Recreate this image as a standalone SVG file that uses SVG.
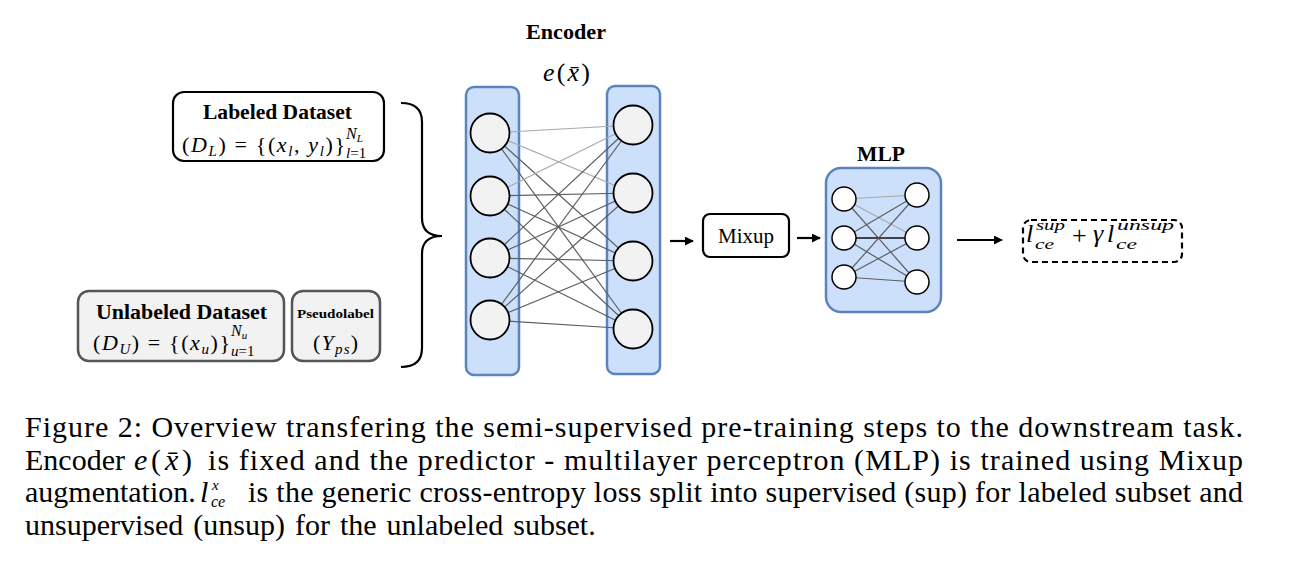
<svg xmlns="http://www.w3.org/2000/svg" width="1290" height="572" viewBox="0 0 1290 572">
<style>
.t{font-family:"Liberation Serif","Times New Roman",serif;fill:#000}
.b{font-weight:bold}
.i{font-style:italic}
.col{fill:#cce0fc;stroke:#5b84bf;stroke-width:2.5}
.enc{fill:#f2f2f2;stroke:#000;stroke-width:1.8}
.mlpn{fill:#fff;stroke:#000;stroke-width:1.5}
.lt{stroke:#a8a8a8;stroke-width:1.2}
.dk{stroke:#5e5e5e;stroke-width:1.2}
.arr{stroke:#000;stroke-width:2.2;fill:none}
</style>
<defs>
<marker id="ah" viewBox="0 0 10 10" refX="9" refY="5" markerWidth="9" markerHeight="9" markerUnits="userSpaceOnUse" orient="auto">
<path d="M0,0 L10,5 L0,10 z" fill="#000"/>
</marker>
</defs>
<rect width="1290" height="572" fill="#fff"/>

<g id="labeled">
<rect x="173" y="92" width="211" height="69" rx="11" fill="#fff" stroke="#000" stroke-width="2.2"/>
<text class="t b" x="203" y="119" font-size="21.5" textLength="149" lengthAdjust="spacingAndGlyphs">Labeled Dataset</text>
<text class="t" x="182" y="152" font-size="22" textLength="163" lengthAdjust="spacing">(<tspan class="i">D</tspan><tspan class="i" font-size="15" dy="4">L</tspan><tspan dy="-4">) = {(</tspan><tspan class="i">x</tspan><tspan class="i" font-size="15" dy="4">l</tspan><tspan dy="-4">, </tspan><tspan class="i">y</tspan><tspan class="i" font-size="15" dy="4">l</tspan><tspan dy="-4">)}</tspan></text>
<text class="t i" x="346" y="139" font-size="16">N<tspan font-size="11" dy="3">L</tspan></text>
<text class="t" x="346" y="158" font-size="15"><tspan class="i">l</tspan>=1</text>
</g>

<g id="unlabeled">
<rect x="78" y="291" width="206" height="70" rx="11" fill="#f2f2f2" stroke="#555" stroke-width="2.5"/>
<text class="t b" x="96" y="319" font-size="21.5" textLength="171" lengthAdjust="spacingAndGlyphs">Unlabeled Dataset</text>
<text class="t" x="93" y="350" font-size="22" textLength="137" lengthAdjust="spacing">(<tspan class="i">D</tspan><tspan class="i" font-size="15" dy="4">U</tspan><tspan dy="-4">) = {(</tspan><tspan class="i">x</tspan><tspan class="i" font-size="15" dy="4">u</tspan><tspan dy="-4">)}</tspan></text>
<text class="t i" x="231" y="336" font-size="16">N<tspan font-size="11" dy="3">u</tspan></text>
<text class="t" x="231" y="356" font-size="15"><tspan class="i">u</tspan>=1</text>
</g>

<g id="pseudolabel">
<rect x="292" y="291" width="88" height="70" rx="11" fill="#f2f2f2" stroke="#555" stroke-width="2.5"/>
<text class="t b" x="297" y="318" font-size="13" textLength="77" lengthAdjust="spacingAndGlyphs">Pseudolabel</text>
<text class="t" x="313" y="350" font-size="22" textLength="45" lengthAdjust="spacing">(<tspan class="i">Y</tspan><tspan class="i" font-size="15" dy="4">ps</tspan><tspan dy="-4">)</tspan></text>
</g>

<g id="brace">
<path d="M401,103 Q422,103 422,122 L422,218 Q422,236 442,236 Q422,236 422,254 L422,348 Q422,367 401,367" fill="none" stroke="#000" stroke-width="2.2"/>
</g>

<g id="encoder">
<text class="t b" x="526" y="39" font-size="21" textLength="80" lengthAdjust="spacingAndGlyphs">Encoder</text>
<text class="t" x="543" y="81" font-size="26" textLength="47" lengthAdjust="spacing"><tspan class="i">e</tspan>(<tspan class="i">x̄</tspan>)</text>
<rect class="col" x="466" y="87" width="53" height="288" rx="8"/>
<rect class="col" x="607" y="86" width="53" height="288" rx="8"/>
<g id="encoder-edges">
<line class="lt" x1="490" y1="133" x2="633" y2="125"/>
<line class="lt" x1="490" y1="133" x2="633" y2="193"/>
<line class="dk" x1="490" y1="133" x2="633" y2="261"/>
<line class="dk" x1="490" y1="133" x2="633" y2="329"/>
<line class="lt" x1="490" y1="196" x2="633" y2="125"/>
<line class="dk" x1="490" y1="196" x2="633" y2="193"/>
<line class="dk" x1="490" y1="196" x2="633" y2="261"/>
<line class="dk" x1="490" y1="196" x2="633" y2="329"/>
<line class="dk" x1="490" y1="258" x2="633" y2="125"/>
<line class="dk" x1="490" y1="258" x2="633" y2="193"/>
<line class="dk" x1="490" y1="258" x2="633" y2="261"/>
<line class="dk" x1="490" y1="258" x2="633" y2="329"/>
<line class="dk" x1="490" y1="320" x2="633" y2="125"/>
<line class="dk" x1="490" y1="320" x2="633" y2="193"/>
<line class="dk" x1="490" y1="320" x2="633" y2="261"/>
<line class="dk" x1="490" y1="320" x2="633" y2="329"/>
</g>
<circle class="enc" cx="490" cy="133" r="19.5"/>
<circle class="enc" cx="490" cy="196" r="19.5"/>
<circle class="enc" cx="490" cy="258" r="19.5"/>
<circle class="enc" cx="490" cy="320" r="19.5"/>
<circle class="enc" cx="633" cy="125" r="19.5"/>
<circle class="enc" cx="633" cy="193" r="19.5"/>
<circle class="enc" cx="633" cy="261" r="19.5"/>
<circle class="enc" cx="633" cy="329" r="19.5"/>
</g>

<g id="mixup">
<rect x="703" y="214" width="86" height="43" rx="7" fill="#fff" stroke="#000" stroke-width="2.2"/>
<text class="t" x="746" y="243" font-size="21" text-anchor="middle">Mixup</text>
</g>

<g id="mlp">
<text class="t b" x="857" y="161" font-size="21" textLength="48" lengthAdjust="spacingAndGlyphs">MLP</text>
<rect class="col" x="826" y="168" width="115" height="144" rx="15"/>
<g id="mlp-edges">
<line class="lt" x1="844" y1="199" x2="917" y2="195"/>
<line class="lt" x1="844" y1="199" x2="917" y2="238"/>
<line class="dk" x1="844" y1="199" x2="917" y2="282"/>
<line class="dk" x1="844" y1="238" x2="917" y2="195"/>
<line stroke="#111" stroke-width="1.5" x1="844" y1="238" x2="917" y2="238"/>
<line class="dk" x1="844" y1="238" x2="917" y2="282"/>
<line class="dk" x1="844" y1="277" x2="917" y2="195"/>
<line class="dk" x1="844" y1="277" x2="917" y2="238"/>
<line class="dk" x1="844" y1="277" x2="917" y2="282"/>
</g>
<circle class="mlpn" cx="844" cy="199" r="12"/>
<circle class="mlpn" cx="844" cy="238" r="12"/>
<circle class="mlpn" cx="844" cy="277" r="12"/>
<circle class="mlpn" cx="917" cy="195" r="12"/>
<circle class="mlpn" cx="917" cy="238" r="12"/>
<circle class="mlpn" cx="917" cy="282" r="12"/>
</g>

<g id="loss">
<rect x="1023" y="220" width="159" height="42" rx="8" fill="none" stroke="#000" stroke-width="2.2" stroke-dasharray="6,4"/>
<text class="t i" x="1026" y="242" font-size="26">l</text>
<text class="t i" x="1036" y="230" font-size="15" textLength="29" lengthAdjust="spacingAndGlyphs">sup</text>
<text class="t i" x="1035" y="249" font-size="15" textLength="19" lengthAdjust="spacingAndGlyphs">ce</text>
<text class="t" x="1072" y="244" font-size="26">+</text>
<text class="t i" x="1093" y="242" font-size="26">γ</text>
<text class="t i" x="1107" y="242" font-size="26">l</text>
<text class="t i" x="1117" y="230" font-size="15" textLength="57" lengthAdjust="spacingAndGlyphs">unsup</text>
<text class="t i" x="1116" y="249" font-size="15" textLength="21" lengthAdjust="spacingAndGlyphs">ce</text>
</g>

<g id="connectors">
<line class="arr" x1="670" y1="241" x2="693" y2="241" marker-end="url(#ah)"/>
<line class="arr" x1="797" y1="238" x2="820" y2="238" marker-end="url(#ah)"/>
<line class="arr" stroke-width="1.8" x1="957" y1="240" x2="1002" y2="240" marker-end="url(#ah)"/>
</g>

<g id="caption">
<text class="t" x="25" y="437" font-size="30" textLength="1218" lengthAdjust="spacing">Figure 2: Overview transfering the semi-supervised pre-training steps to the downstream task.</text>
<text class="t" x="25" y="470" font-size="30">Encoder</text>
<text class="t" x="134" y="470" font-size="30" textLength="58" lengthAdjust="spacing"><tspan class="i">e</tspan>(<tspan class="i">x̄</tspan>)</text>
<text class="t" x="208" y="470" font-size="30" textLength="1035" lengthAdjust="spacing">is fixed and the predictor - multilayer perceptron (MLP) is trained using Mixup</text>
<text class="t" x="25" y="502" font-size="30">augmentation.</text>
<text class="t i" x="200" y="502" font-size="30">l</text>
<text class="t i" x="212" y="490" font-size="15">x</text>
<text class="t i" x="211" y="507" font-size="16">ce</text>
<text class="t" x="248" y="502" font-size="30" textLength="995" lengthAdjust="spacing">is the generic cross-entropy loss split into supervised (sup) for labeled subset and</text>
<text class="t" x="25" y="535" font-size="30" word-spacing="2.5">unsupervised (unsup) for the unlabeled subset.</text>
</g>
</svg>
